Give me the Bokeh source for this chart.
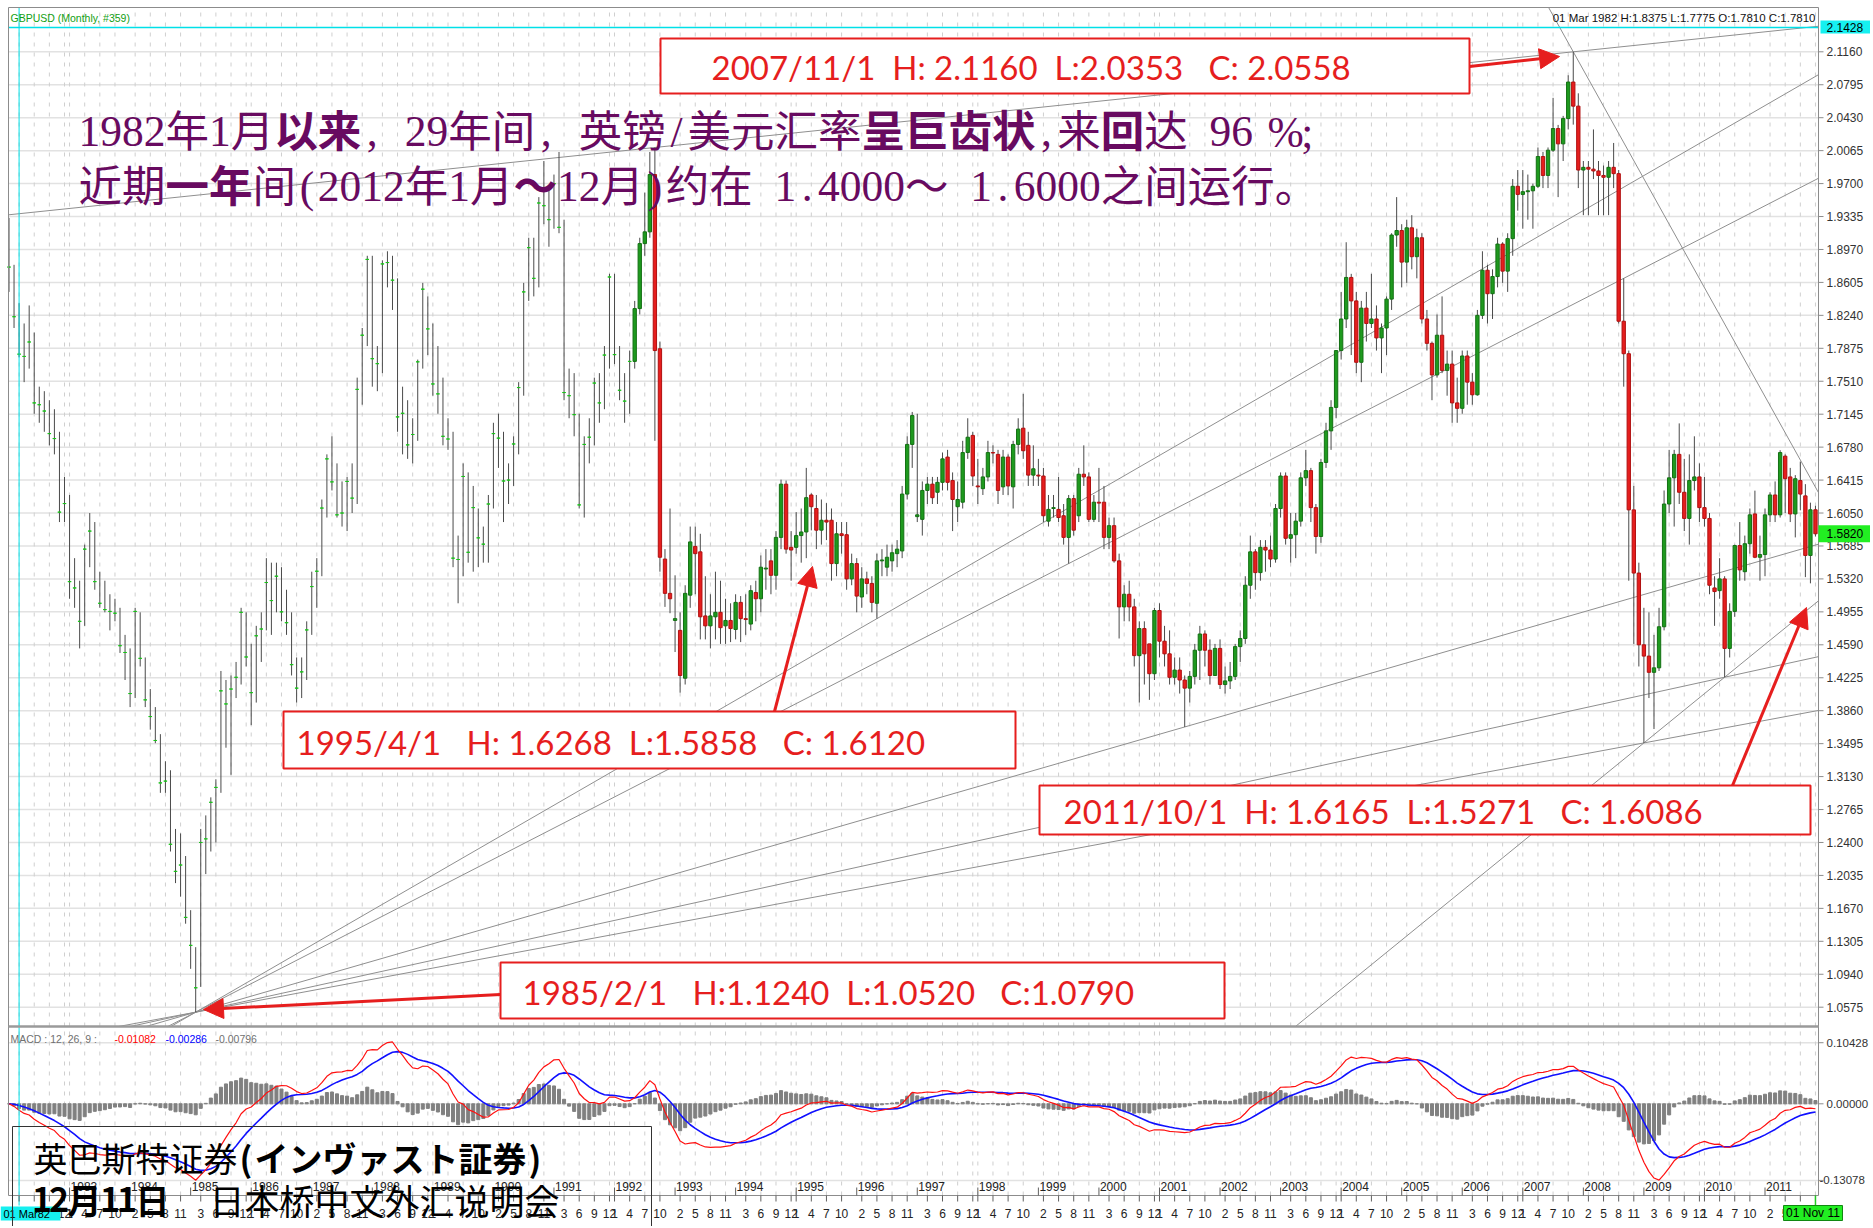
from bokeh.plotting import figure
from bokeh.models import Range1d, Arrow, NormalHead, ColumnDataSource
from bokeh.embed import file_html
from bokeh.resources import INLINE
from bokeh.core.properties import value

# ---------------- data: GBPUSD monthly, Jan 1982 .. Nov 2011 ----------------
close = [
    1.8775, 1.8225, 1.7810, 1.7785, 1.7945, 1.7270, 1.7250, 1.7180, 1.6930, 1.6875, 1.6060, 1.6155,  # 1982
    1.5290, 1.5220, 1.4850, 1.5650, 1.5850, 1.5290, 1.5050, 1.4980, 1.4960, 1.4940, 1.4580, 1.4505,  # 1983
    1.4050, 1.4960, 1.4440, 1.3980, 1.3795, 1.3530, 1.3060, 1.3080, 1.2380, 1.2080, 1.2150, 1.1570,  # 1984
    1.1260, 1.0790, 1.2400, 1.2440, 1.2845, 1.3010, 1.4080, 1.3935, 1.4100, 1.4230, 1.4950, 1.4455,  # 1985
    1.4060, 1.4690, 1.4765, 1.5280, 1.5080, 1.5350, 1.4955, 1.4835, 1.4370, 1.4110, 1.4290, 1.4755,  # 1986
    1.5235, 1.5405, 1.6105, 1.6650, 1.6395, 1.6030, 1.6050, 1.6400, 1.6215, 1.7420, 1.8020, 1.8860,  # 1987
    1.7760, 1.7705, 1.8810, 1.8825, 1.8630, 1.7115, 1.7155, 1.6805, 1.6920, 1.7725, 1.8530, 1.8090,  # 1988
    1.7480, 1.7370, 1.6900, 1.6870, 1.5550, 1.5535, 1.6455, 1.5615, 1.6110, 1.5775, 1.5705, 1.6150,  # 1989
    1.6930, 1.6880, 1.6405, 1.6415, 1.6815, 1.7440, 1.8500, 1.8990, 1.8650, 1.9485, 1.9455, 1.9300,  # 1990
    1.9700, 1.9215, 1.7385, 1.7350, 1.7140, 1.6140, 1.6810, 1.6890, 1.7490, 1.7270, 1.7800, 1.8665,  # 1991
    1.7805, 1.7410, 1.7290, 1.7730, 1.8315, 1.9035, 1.9165, 1.9800, 1.7850, 1.5560, 1.5160, 1.5100,  # 1992
    1.4880, 1.4250, 1.5160, 1.5730, 1.5600, 1.4900, 1.4800, 1.4910, 1.4950, 1.4780, 1.4860, 1.4770,  # 1993
    1.5060, 1.4880, 1.4870, 1.5190, 1.5100, 1.5450, 1.5440, 1.5360, 1.5780, 1.6370, 1.5650, 1.5640,  # 1994
    1.5800, 1.5840, 1.6220, 1.6120, 1.5860, 1.5970, 1.5950, 1.5490, 1.5820, 1.5800, 1.5320, 1.5490,  # 1995
    1.5130, 1.5320, 1.5270, 1.5060, 1.5520, 1.5530, 1.5560, 1.5610, 1.5650, 1.6260, 1.6810, 1.7130,  # 1996
    1.6030, 1.6300, 1.6370, 1.6220, 1.6390, 1.6650, 1.6390, 1.6200, 1.6200, 1.6720, 1.6890, 1.6460,  # 1997
    1.6340, 1.6450, 1.6720, 1.6715, 1.6300, 1.6670, 1.6350, 1.6810, 1.6980, 1.6740, 1.6470, 1.6540,  # 1998
    1.6460, 1.6020, 1.6090, 1.6110, 1.6000, 1.5780, 1.6210, 1.5860, 1.6480, 1.6450, 1.5980, 1.6170,  # 1999
    1.6160, 1.5780, 1.5910, 1.5520, 1.5010, 1.5150, 1.5010, 1.4470, 1.4770, 1.4490, 1.4270, 1.4970,  # 2000
    1.4630, 1.4490, 1.4230, 1.4310, 1.4200, 1.4110, 1.4240, 1.4530, 1.4710, 1.4530, 1.4250, 1.4550,  # 2001
    1.4150, 1.4190, 1.4240, 1.4570, 1.4660, 1.5250, 1.5620, 1.5390, 1.5670, 1.5640, 1.5540, 1.6100,  # 2002
    1.6460, 1.5770, 1.5810, 1.5960, 1.6440, 1.6520, 1.6110, 1.5790, 1.6610, 1.6960, 1.7220, 1.7850,  # 2003
    1.8200, 1.8660, 1.8400, 1.7720, 1.8320, 1.8150, 1.8200, 1.7990, 1.8100, 1.8420, 1.9130, 1.9180,  # 2004
    1.8830, 1.9210, 1.8890, 1.9100, 1.8200, 1.7930, 1.7580, 1.8020, 1.7630, 1.7700, 1.7270, 1.7210,  # 2005
    1.7790, 1.7500, 1.7360, 1.8240, 1.8740, 1.8480, 1.8670, 1.9030, 1.8730, 1.9090, 1.9670, 1.9580,  # 2006
    1.9610, 1.9620, 1.9670, 2.0000, 1.9790, 2.0070, 2.0310, 2.0140, 2.0420, 2.0825, 2.0558, 1.9850,  # 2007
    1.9880, 1.9860, 1.9840, 1.9790, 1.9770, 1.9880, 1.9810, 1.8175, 1.7815, 1.6085, 1.5385, 1.4590,  # 2008
    1.4465, 1.4285, 1.4335, 1.4790, 1.6150, 1.6440, 1.6700, 1.6280, 1.5990, 1.6410, 1.6450, 1.6110,  # 2009
    1.5990, 1.5250, 1.5180, 1.5320, 1.4550, 1.4960, 1.5690, 1.5420, 1.5710, 1.6030, 1.5560, 1.5590,  # 2010
    1.6030, 1.6250, 1.6030, 1.6720, 1.6430, 1.6040, 1.6430, 1.6260, 1.5580, 1.6086, 1.5820,          # 2011
]
high = [
    1.9320, 1.8800, 1.8375, 1.8150, 1.8350, 1.8050, 1.7450, 1.7400, 1.7300, 1.7200, 1.6950, 1.6450,
    1.6250, 1.5550, 1.5300, 1.5700, 1.6050, 1.5950, 1.5400, 1.5300, 1.5150, 1.5100, 1.5000, 1.4700,
    1.4550, 1.5000, 1.4950, 1.4450, 1.4100, 1.3900, 1.3600, 1.3300, 1.3200, 1.2550, 1.2500, 1.2250,
    1.1650, 1.1240, 1.2550, 1.2700, 1.2900, 1.3100, 1.4300, 1.4200, 1.4250, 1.4400, 1.5000, 1.4950,
    1.4600, 1.4800, 1.4950, 1.5550, 1.5500, 1.5500, 1.5450, 1.5200, 1.4950, 1.4450, 1.4450, 1.4850,
    1.5400, 1.5550, 1.6200, 1.6700, 1.6900, 1.6600, 1.6400, 1.6450, 1.6600, 1.7550, 1.8100, 1.8900,
    1.8900, 1.7900, 1.8850, 1.8950, 1.8900, 1.8650, 1.7450, 1.7300, 1.7100, 1.7750, 1.8600, 1.8450,
    1.8150, 1.7900, 1.7550, 1.7100, 1.6950, 1.5800, 1.6600, 1.6500, 1.6350, 1.6100, 1.5900, 1.6250,
    1.7050, 1.7150, 1.6950, 1.6600, 1.6900, 1.7500, 1.8600, 1.9100, 1.9100, 1.9550, 1.9950, 1.9650,
    1.9800, 2.0050, 1.9300, 1.7650, 1.7600, 1.7150, 1.6900, 1.7100, 1.7550, 1.7600, 1.7900, 1.8700,
    1.8700, 1.7900, 1.7600, 1.7850, 1.8400, 1.9100, 1.9600, 2.0050, 2.0100, 1.7950, 1.5650, 1.6100,
    1.5360, 1.4950, 1.5250, 1.5900, 1.5900, 1.5820, 1.5350, 1.5150, 1.5400, 1.5300, 1.5100, 1.5050,
    1.5150, 1.5130, 1.5150, 1.5250, 1.5300, 1.5580, 1.5650, 1.5650, 1.5850, 1.6420, 1.6410, 1.5850,
    1.6060, 1.6100, 1.6550, 1.6268, 1.6250, 1.6200, 1.6160, 1.6100, 1.5950, 1.5950, 1.5950, 1.5600,
    1.5550, 1.5450, 1.5400, 1.5350, 1.5600, 1.5650, 1.5700, 1.5700, 1.5750, 1.6350, 1.6900, 1.7170,
    1.7150, 1.6400, 1.6450, 1.6450, 1.6450, 1.6720, 1.6750, 1.6500, 1.6400, 1.6850, 1.7100, 1.6950,
    1.6650, 1.6550, 1.6850, 1.6800, 1.6750, 1.6750, 1.6700, 1.6850, 1.7100, 1.7370, 1.6950, 1.6800,
    1.6650, 1.6550, 1.6250, 1.6250, 1.6450, 1.6150, 1.6250, 1.6250, 1.6550, 1.6800, 1.6500, 1.6250,
    1.6550, 1.6350, 1.6000, 1.6000, 1.5600, 1.5250, 1.5300, 1.5100, 1.4850, 1.4850, 1.4600, 1.5000,
    1.5050, 1.4800, 1.4750, 1.4450, 1.4450, 1.4250, 1.4300, 1.4600, 1.4800, 1.4750, 1.4650, 1.4600,
    1.4650, 1.4350, 1.4400, 1.4600, 1.4750, 1.5350, 1.5800, 1.5650, 1.5750, 1.5750, 1.5800, 1.6150,
    1.6500, 1.6500, 1.6050, 1.6050, 1.6500, 1.6750, 1.6550, 1.6150, 1.6650, 1.7050, 1.7300, 1.7850,
    1.8500, 1.9050, 1.8700, 1.8500, 1.8400, 1.8500, 1.8700, 1.8350, 1.8150, 1.8450, 1.9150, 1.9550,
    1.9250, 1.9300, 1.9350, 1.9200, 1.9150, 1.8300, 1.7950, 1.8250, 1.8450, 1.7850, 1.7850, 1.7550,
    1.7850, 1.7850, 1.7600, 1.8300, 1.8950, 1.8800, 1.8750, 1.9100, 1.9050, 1.9150, 1.9750, 1.9850,
    1.9850, 1.9800, 1.9700, 2.0100, 2.0050, 2.0100, 2.0650, 2.0350, 2.0450, 2.0900, 2.1160, 2.0700,
    1.9950, 1.9950, 2.0300, 1.9950, 1.9900, 1.9950, 2.0150, 1.9850, 1.8650, 1.7850, 1.6350, 1.5500,
    1.5000, 1.4950, 1.4700, 1.5000, 1.6300, 1.6750, 1.6750, 1.7043, 1.6650, 1.6700, 1.6900, 1.6600,
    1.6450, 1.6050, 1.5350, 1.5550, 1.5350, 1.5050, 1.5700, 1.5950, 1.5800, 1.6100, 1.6298, 1.5800,
    1.6100, 1.6280, 1.6400, 1.6746, 1.6700, 1.6550, 1.6470, 1.6620, 1.6370, 1.6165, 1.6130,
]
low = [
    1.8500, 1.8100, 1.7775, 1.7500, 1.7650, 1.7150, 1.7050, 1.6950, 1.6800, 1.6700, 1.5950, 1.5950,
    1.5100, 1.5000, 1.4550, 1.4800, 1.5450, 1.5200, 1.5000, 1.4950, 1.4750, 1.4850, 1.4500, 1.4200,
    1.3900, 1.4000, 1.4350, 1.3900, 1.3650, 1.3500, 1.2950, 1.2950, 1.2300, 1.1950, 1.1800, 1.1500,
    1.1000, 1.0520, 1.0800, 1.2050, 1.2300, 1.2400, 1.2950, 1.3450, 1.3150, 1.4000, 1.4150, 1.4350,
    1.3700, 1.3950, 1.4400, 1.4750, 1.4700, 1.4950, 1.4850, 1.4700, 1.4250, 1.3950, 1.4000, 1.4200,
    1.4700, 1.5000, 1.5350, 1.6000, 1.6300, 1.6000, 1.5900, 1.5850, 1.6050, 1.6150, 1.7250, 1.7900,
    1.7450, 1.7400, 1.7600, 1.8550, 1.8300, 1.6950, 1.6700, 1.6650, 1.6600, 1.6850, 1.7650, 1.7800,
    1.7350, 1.7150, 1.6800, 1.6750, 1.5450, 1.5050, 1.5350, 1.5500, 1.5400, 1.5450, 1.5500, 1.5500,
    1.6100, 1.6550, 1.5950, 1.6150, 1.6350, 1.6700, 1.7350, 1.8400, 1.8450, 1.8550, 1.9250, 1.9000,
    1.9200, 1.9150, 1.7300, 1.7100, 1.6900, 1.6100, 1.6000, 1.6600, 1.6800, 1.7050, 1.7200, 1.7650,
    1.7700, 1.7300, 1.7050, 1.7150, 1.7650, 1.8250, 1.8900, 1.9100, 1.6850, 1.5400, 1.5010, 1.4940,
    1.4510, 1.4060, 1.4150, 1.5000, 1.5150, 1.4650, 1.4650, 1.4550, 1.4650, 1.4600, 1.4600, 1.4620,
    1.4650, 1.4620, 1.4700, 1.4750, 1.4850, 1.4950, 1.5200, 1.5150, 1.5200, 1.5650, 1.5600, 1.5300,
    1.5600, 1.5500, 1.5550, 1.5858, 1.5650, 1.5700, 1.5750, 1.5300, 1.5350, 1.5600, 1.5200, 1.5250,
    1.4950, 1.5000, 1.5150, 1.4950, 1.4880, 1.5350, 1.5350, 1.5400, 1.5450, 1.5550, 1.6200, 1.6550,
    1.5950, 1.5800, 1.6150, 1.6150, 1.6150, 1.6300, 1.6300, 1.5850, 1.5950, 1.6100, 1.6650, 1.6350,
    1.6150, 1.6250, 1.6400, 1.6600, 1.6150, 1.6250, 1.6250, 1.6100, 1.6700, 1.6650, 1.6350, 1.6350,
    1.6350, 1.5950, 1.5900, 1.6000, 1.5950, 1.5700, 1.5490, 1.5800, 1.5950, 1.6350, 1.5950, 1.5950,
    1.5950, 1.5650, 1.5650, 1.5500, 1.4660, 1.4850, 1.4850, 1.4350, 1.3950, 1.4150, 1.3980, 1.4200,
    1.4450, 1.4350, 1.4150, 1.4150, 1.4050, 1.3680, 1.3950, 1.4150, 1.4200, 1.4350, 1.4150, 1.4250,
    1.4100, 1.4050, 1.4100, 1.4200, 1.4400, 1.4600, 1.5100, 1.5200, 1.5300, 1.5400, 1.5450, 1.5500,
    1.6000, 1.5700, 1.5500, 1.5550, 1.5900, 1.6350, 1.5950, 1.5600, 1.5720, 1.6550, 1.6750, 1.7100,
    1.7750, 1.8100, 1.7800, 1.7600, 1.7500, 1.7950, 1.8100, 1.7850, 1.7600, 1.7800, 1.8300, 1.9000,
    1.8550, 1.8600, 1.8750, 1.8650, 1.8150, 1.7850, 1.7300, 1.7550, 1.7600, 1.7350, 1.7050, 1.7050,
    1.7150, 1.7250, 1.7250, 1.7350, 1.8200, 1.8150, 1.8200, 1.8550, 1.8600, 1.8500, 1.8900, 1.9400,
    1.9200, 1.9300, 1.9200, 1.9650, 1.9650, 1.9650, 2.0050, 1.9550, 1.9950, 2.0300, 2.0353, 1.9650,
    1.9350, 1.9350, 1.9750, 1.9350, 1.9350, 1.9350, 1.9650, 1.8150, 1.7450, 1.5300, 1.4600, 1.4350,
    1.3503, 1.4000, 1.3657, 1.4300, 1.4750, 1.6050, 1.5900, 1.6150, 1.5850, 1.5700, 1.6300, 1.5950,
    1.5900, 1.5150, 1.4800, 1.5100, 1.4231, 1.4450, 1.4900, 1.5300, 1.5300, 1.5600, 1.5550, 1.5300,
    1.5350, 1.5950, 1.5950, 1.6000, 1.6050, 1.5950, 1.5780, 1.6080, 1.5340, 1.5271, 1.5790,
]
# opens of the candle period (May 1992 onward); earlier source bars carry O = C
open_candles = [
    1.7730, 1.8315, 1.9035, 1.9165, 1.9800, 1.7870, 1.5540, 1.5160,                                  # 1992 May-Dec
    1.4860, 1.4750, 1.4220, 1.5140, 1.5680, 1.5620, 1.4910, 1.4800, 1.4900, 1.4950, 1.4800, 1.4860,  # 1993
    1.4760, 1.5060, 1.4880, 1.4820, 1.5170, 1.5100, 1.5430, 1.5520, 1.5360, 1.5780, 1.6370, 1.5670,  # 1994
    1.5670, 1.5800, 1.5840, 1.6250, 1.6100, 1.5860, 1.5970, 1.5970, 1.5490, 1.5820, 1.5810, 1.5320,  # 1995
    1.5490, 1.5120, 1.5320, 1.5270, 1.5050, 1.5520, 1.5450, 1.5520, 1.5600, 1.5630, 1.6260, 1.6810,  # 1996
    1.6010, 1.5980, 1.6300, 1.6370, 1.6280, 1.6390, 1.6670, 1.6410, 1.6120, 1.6170, 1.6720, 1.6910,  # 1997
    1.6350, 1.6320, 1.6450, 1.6720, 1.6700, 1.6340, 1.6670, 1.6340, 1.6810, 1.6990, 1.6800, 1.6470,  # 1998
    1.6470, 1.6460, 1.5960, 1.6100, 1.6090, 1.6020, 1.5780, 1.6210, 1.6020, 1.6480, 1.6450, 1.5980,  # 1999
    1.6170, 1.6170, 1.5780, 1.5910, 1.5520, 1.5010, 1.5150, 1.5010, 1.4470, 1.4770, 1.4600, 1.4270,  # 2000
    1.4970, 1.4630, 1.4490, 1.4230, 1.4310, 1.4200, 1.4110, 1.4240, 1.4530, 1.4710, 1.4530, 1.4250,  # 2001
    1.4550, 1.4150, 1.4190, 1.4240, 1.4570, 1.4660, 1.5250, 1.5620, 1.5390, 1.5670, 1.5640, 1.5540,  # 2002
    1.6100, 1.6460, 1.5770, 1.5810, 1.5960, 1.6440, 1.6520, 1.6110, 1.5790, 1.6610, 1.6960, 1.7220,  # 2003
    1.7850, 1.8200, 1.8660, 1.8400, 1.7720, 1.8320, 1.8150, 1.8200, 1.7990, 1.8100, 1.8420, 1.9130,  # 2004
    1.9180, 1.8830, 1.9210, 1.8890, 1.9100, 1.8200, 1.7930, 1.7580, 1.8020, 1.7630, 1.7700, 1.7270,  # 2005
    1.7210, 1.7790, 1.7500, 1.7360, 1.8240, 1.8740, 1.8480, 1.8670, 1.9030, 1.8730, 1.9090, 1.9670,  # 2006
    1.9580, 1.9610, 1.9620, 1.9670, 2.0000, 1.9790, 2.0070, 2.0310, 2.0140, 2.0420, 2.0825, 2.0558,  # 2007
    1.9850, 1.9880, 1.9860, 1.9840, 1.9790, 1.9770, 1.9880, 1.9810, 1.8175, 1.7815, 1.6085, 1.5385,  # 2008
    1.4590, 1.4465, 1.4285, 1.4335, 1.4790, 1.6150, 1.6440, 1.6700, 1.6280, 1.5990, 1.6410, 1.6450,  # 2009
    1.6110, 1.5990, 1.5220, 1.5190, 1.5320, 1.4550, 1.4960, 1.5690, 1.5400, 1.5710, 1.6040, 1.5560,  # 2010
    1.5590, 1.6030, 1.6250, 1.6030, 1.6680, 1.6450, 1.6040, 1.6410, 1.6240, 1.5580, 1.6086,          # 2011
]
CANDLE_START = 124   # May 1992

price_ticks = [2.1160, 2.0795, 2.0430, 2.0065, 1.9700, 1.9335, 1.8970, 1.8605, 1.8240, 1.7875,
               1.7510, 1.7145, 1.6780, 1.6415, 1.6050, 1.5685, 1.5320, 1.4955, 1.4590, 1.4225,
               1.3860, 1.3495, 1.3130, 1.2765, 1.2400, 1.2035, 1.1670, 1.1305, 1.0940, 1.0575]
macd_ticks = [0.10428, 0.0, -0.13078]
macd_tick_labels = ["0.10428", "0.00000", "-0.13078"]
cross_price = 2.1428     # crosshair level shown on the price axis
cross_bar = 2            # crosshair bar: 01 Mar 1982

N = len(close)
assert N == 359 and len(high) == N and len(low) == N
assert len(open_candles) == N - CANDLE_START
opens = close[:CANDLE_START] + open_candles

# trend lines: anchor pairs (bar index, price)
trend_lines = [
    (128, high[128], 310, high[310]),   # 1992 high -> 2007 high
    (37, low[37], 172, low[172]),       # fan from the 1985 low
    (37, low[37], 210, low[210]),
    (37, low[37], 233, low[233]),
    (37, low[37], 340, low[340]),
    (37, low[37], 324, low[324]),
    (324, low[324], 340, low[340]),     # 2009 low -> 2010 low
    (310, high[310], 358, 1.6336),      # falling line from the 2007 high
]

# ---------------- page geometry (pixels of the 1873x1228 picture) ----------------
W, H = 1870, 1226
BAR = 5.046          # px per month
X_OFF = 8.5          # px of bar 0
PPX = 902.6          # px per 1.0 of price
P_REF_PX, P_REF = 51.3, 2.1160
MPX = 585.8          # px per 1.0 of MACD
M_ZERO_PX = 1103.3


def X(px):
    return (px - X_OFF) / BAR


def P(py):
    return P_REF - (py - P_REF_PX) / PPX


def M(py):
    return (M_ZERO_PX - py) / MPX


XL, XR = X(8), X(1818)
PT, PB = P(7), P(1026)
MT, MB = M(1026), M(1195)

RED = "#e61e1e"
GREEN = "#1e9a1e"
TICK_GREEN = "#19c419"
WICK = "#4a4a4a"
GRID_H = "#e2e2e2"
GRID_V = "#cfcfcf"
FRAME = "#8c8c8c"
AXIS_TXT = "#333333"
SANS = value("Liberation Sans")

p = figure(width=W, height=H, x_range=Range1d(X(0), X(W)), y_range=Range1d(P(H), P(0)),
           output_backend="svg", toolbar_location=None, x_axis_location=None, y_axis_location=None,
           min_border=0)
p.extra_y_ranges = {"m": Range1d(M(H), M(0))}
p.outline_line_color = None
p.background_fill_color = "white"
p.border_fill_color = "white"
p.grid.visible = False

# month label positions (every 3 months, phase set by the year)
month_pos, month_lab = [], []
for i in range(N):
    yr, m = 1982 + i // 12, i % 12 + 1
    if m % 3 == (yr % 3 + 1) % 3:
        month_pos.append(i)
        month_lab.append(str(m))
year_pos = [(y - 1982) * 12 for y in range(1983, 2012)]
year_lab = [str(y) for y in range(1983, 2012)]

# ---------------- grids ----------------
nP = len(price_ticks)
p.segment(x0=[XL] * nP, y0=price_ticks, x1=[XR] * nP, y1=price_ticks, line_color=GRID_H, line_width=1.5)
nm = len(month_pos)
p.segment(x0=month_pos, y0=[PB] * nm, x1=month_pos, y1=[PT] * nm, line_color=GRID_V, line_dash="4 6")
p.segment(x0=[XL] * 3, y0=macd_ticks, x1=[XR] * 3, y1=macd_ticks, line_color=GRID_H, line_width=1.5,
          y_range_name="m")
p.segment(x0=month_pos, y0=[MB] * nm, x1=month_pos, y1=[MT] * nm, line_color=GRID_V, line_dash="4 6",
          y_range_name="m")


# ---------------- trend lines (clipped to the price panel) ----------------
def clip_line(i1, v1, i2, v2):
    s = (v2 - v1) / (i2 - i1)
    a, b = XL, XR
    if s != 0:
        xs = sorted([i1 + (PB - v1) / s, i1 + (PT - v1) / s])
        a, b = max(a, xs[0]), min(b, xs[1])
    return a, v1 + s * (a - i1), b, v1 + s * (b - i1)


segs = [clip_line(*t) for t in trend_lines]
p.segment(x0=[s[0] for s in segs], y0=[s[1] for s in segs], x1=[s[2] for s in segs],
          y1=[s[3] for s in segs], line_color="#8f8f8f", line_width=1)

# ---------------- candles ----------------
idx = list(range(N))
fill, edge = [], []
for i, (o, c) in enumerate(zip(opens, close)):
    if i < CANDLE_START or abs(o - c) < 1e-9:
        fill.append(TICK_GREEN); edge.append(TICK_GREEN)
    elif c > o:
        fill.append(GREEN); edge.append("#137013")
    else:
        fill.append(RED); edge.append("#b01010")
src = ColumnDataSource(dict(x=idx, hi=high, lo=low,
                            top=[max(o, c) for o, c in zip(opens, close)],
                            bot=[min(o, c) for o, c in zip(opens, close)], fill=fill, edge=edge))
p.segment(x0="x", y0="lo", x1="x", y1="hi", source=src, line_color=WICK, line_width=1)
p.vbar(x="x", top="top", bottom="bot", width=0.66, source=src, fill_color="fill", line_color="edge")


# ---------------- MACD (12, 26, 9) ----------------
def ema(vals, n):
    k = 2.0 / (n + 1)
    out, e = [], vals[0]
    for v in vals:
        e = e + k * (v - e)
        out.append(e)
    return out


e12, e26 = ema(close, 12), ema(close, 26)
macd = [a - b for a, b in zip(e12, e26)]
signal = ema(macd, 9)
hist = [m - s for m, s in zip(macd, signal)]
p.vbar(x=idx, top=hist, bottom=0, width=0.6, fill_color="#808080", line_color="#808080", y_range_name="m")
p.line(idx, signal, line_color="#1010ff", line_width=1.6, y_range_name="m")
p.line(idx, macd, line_color="#ff1010", line_width=1.2, y_range_name="m")

# ---------------- crosshair ----------------
p.segment(x0=[cross_bar], y0=[P(7)], x1=[cross_bar], y1=[P(1205)], line_color="#00e0e8", line_width=1)
p.segment(x0=[XL], y0=[cross_price], x1=[XR], y1=[cross_price], line_color="#00e0e8", line_width=1.5)

# ---------------- panel frames ----------------
p.quad(left=[XL], right=[XR], top=[PT], bottom=[PB], fill_color=None, line_color=FRAME, line_width=1)
p.quad(left=[XL], right=[XR], top=[MT], bottom=[MB], fill_color=None, line_color=FRAME, line_width=1,
       y_range_name="m")
p.segment(x0=[XL], y0=[PB], x1=[XR], y1=[PB], line_color="#9a9a9a", line_width=2.5)

# ---------------- right axes ----------------
p.segment(x0=[XR] * nP, y0=price_ticks, x1=[X(1823)] * nP, y1=price_ticks, line_color=FRAME)
p.text(x=[X(1826)] * nP, y=price_ticks, text=["%.4f" % t for t in price_ticks], text_font=SANS,
       text_font_size="12px", text_color=AXIS_TXT, text_baseline="middle", text_align="left")
p.segment(x0=[XR] * 3, y0=macd_ticks, x1=[X(1823)] * 3, y1=macd_ticks, line_color=FRAME, y_range_name="m")
p.text(x=[X(1826), X(1826), X(1819)], y=macd_ticks, text=macd_tick_labels, text_font=SANS,
       text_font_size="11.5px", text_color=AXIS_TXT, text_baseline="middle", text_align="left",
       y_range_name="m")

# highlighted axis values
p.quad(left=[X(1820)], right=[X(1870)], top=[P(20)], bottom=[P(33)], fill_color="#16f0f0", line_color=None)
p.text(x=[X(1826)], y=[cross_price], text=["%.4f" % cross_price], text_font=SANS, text_font_size="12px",
       text_color="#000000", text_baseline="middle")
last_py = P_REF_PX + (P_REF - close[-1]) * PPX
p.quad(left=[X(1818)], right=[X(1870)], top=[P(last_py - 8.5)], bottom=[P(last_py + 8.5)],
       fill_color="#22ee22", line_color=None)
p.text(x=[X(1826)], y=[close[-1]], text=["%.4f" % close[-1]], text_font=SANS, text_font_size="12px",
       text_color="#000000", text_baseline="middle")

# ---------------- time axis ----------------
p.segment(x0=month_pos, y0=[P(1195)] * nm, x1=month_pos, y1=[P(1201)] * nm, line_color="#606060")
p.text(x=month_pos, y=[P(1213)] * nm, text=month_lab, text_font=SANS, text_font_size="12px",
       text_color="#222222", text_baseline="middle", text_align="center")
ny = len(year_pos)
p.segment(x0=year_pos, y0=[P(1195)] * ny, x1=year_pos, y1=[P(1187)] * ny, line_color="#606060")
p.text(x=year_pos, y=[P(1186)] * ny, text=year_lab, x_offset=1, text_font=SANS, text_font_size="12px",
       text_color="#222222", text_baseline="middle", text_align="left")
p.quad(left=[X(0)], right=[X(60)], top=[P(1206)], bottom=[P(1220)], fill_color="#16f0f0", line_color=None)
p.text(x=[X(3)], y=[P(1213)], text=["01 Mar82"], text_font=SANS, text_font_size="11px",
       text_color="#000000", text_baseline="middle")
p.segment(x0=[N - 1], y0=[P(1195)], x1=[N - 1], y1=[P(1206)], line_color="#22cc22", line_width=1.5)
p.quad(left=[X(1783)], right=[X(1842)], top=[P(1205)], bottom=[P(1220)], fill_color="#22ee22",
       line_color="#118811")
p.text(x=[X(1812.5)], y=[P(1212.5)], text=["01 Nov 11"], text_font=SANS, text_font_size="12px",
       text_color="#000000", text_baseline="middle", text_align="center")

# ---------------- headers ----------------
p.text(x=[X(10)], y=[P(17)], text=["GBPUSD (Monthly, #359)"], text_font=SANS, text_font_size="10.5px",
       text_color="#12a012", text_baseline="middle")
p.text(x=[X(1815)], y=[P(17)], text=["01 Mar 1982 H:1.8375 L:1.7775 O:1.7810 C:1.7810"], text_font=SANS,
       text_font_size="11.5px", text_color="#111111", text_baseline="middle", text_align="right")
for txt, xpx, col in (("MACD : 12, 26, 9 :", 10, "#707070"), ("-0.01082", 114, "#ff0000"),
                      ("-0.00286", 165, "#0000ff"), ("-0.00796", 215, "#707070")):
    p.text(x=[X(xpx)], y=[P(1038)], text=[txt], text_font=SANS, text_font_size="10.5px", text_color=col,
           text_baseline="middle")


# ---------------- cell layout for CJK texts (CJK = 1 em, Latin = 0.5 em) ----------------
def cells(segments, x0, size):
    out, x = [], x0
    for txt, bold in segments:
        for ch in txt:
            w = size * (1.0 if ord(ch) > 0x2E7F else 0.5)
            if ch != " ":
                out.append((x + w / 2, ch, bold))
            x += w
    return out


def draw_cells(cs, ypx, size, font, color):
    for flag, style in ((0, "normal"), (1, "bold")):
        sel = [c for c in cs if c[2] == flag]
        if sel:
            p.text(x=[X(c[0]) for c in sel], y=[P(ypx)] * len(sel), text=[c[1] for c in sel],
                   text_font=font, text_font_size="%gpx" % size, text_font_style=style, text_color=color,
                   text_align="center", text_baseline="middle")


TITLE_SIZE = 43.5
TFONT = value('"Liberation Serif", "Noto Sans CJK SC", serif')
title1 = [("1982", 0), ("年", 0), ("1", 0), ("月", 0), ("以来", 1), (", ", 0), ("29", 0), ("年间", 0),
          (", ", 0), ("英镑", 0), ("/", 0), ("美元汇率", 0), ("呈巨齿状", 1), (",", 0), ("来", 0),
          ("回", 1), ("达 ", 0), ("96 %;", 0)]
title2 = [("近期", 0), ("一年", 1), ("间", 0), ("(2012", 0), ("年", 0), ("1", 0), ("月", 0), ("〜", 1),
          ("12", 0), ("月", 0), (")", 0), ("约在", 0), (" 1.4000", 0), ("〜", 0), (" 1.6000", 0),
          ("之间运行。", 0)]
draw_cells(cells(title1, 78, TITLE_SIZE), 131, TITLE_SIZE, TFONT, "#680a60")
draw_cells(cells(title2, 78, TITLE_SIZE), 186, TITLE_SIZE, TFONT, "#680a60")

# ---------------- red call-outs ----------------
NB = "\u00a0"
notes = [
    ((660, 38, 1469, 93), "2007/11/1  H: 2.1160  L:2.0353   C: 2.0558", (711, 66), (1469, 66), (1559, 56)),
    ((283, 711, 1015, 768), "1995/4/1   H: 1.6268  L:1.5858   C: 1.6120", (296, 741), (774, 711), (812, 566)),
    ((1039, 785, 1810, 834), "2011/10/1  H: 1.6165  L:1.5271   C: 1.6086", (1063, 810), (1732, 785), (1806, 607)),
    ((500, 962, 1224, 1018), "1985/2/1   H:1.1240  L:1.0520   C:1.0790", (522, 991), (500, 994), (203, 1009)),
]
for (l, t, r, b), txt, (tx, ty), (ax, ay), (bx, by) in notes:
    p.quad(left=[X(l)], right=[X(r)], top=[P(t)], bottom=[P(b)], fill_color="white", line_color=RED,
           line_width=2)
    p.text(x=[X(tx)], y=[P(ty)], text=[txt.replace(" ", NB)], text_font=value("Lato"), text_font_size="33px",
           text_color=RED, text_baseline="middle")
    p.add_layout(Arrow(x_start=X(ax), y_start=P(ay), x_end=X(bx), y_end=P(by), line_color=RED, line_width=3,
                       end=NormalHead(size=20, fill_color=RED, line_color=RED)))

# ---------------- bottom-left caption ----------------
p.quad(left=[X(12)], right=[X(651)], top=[P(1126)], bottom=[P(1240)], fill_color=None, line_color="#333333")
CFONT = value("Noto Sans CJK JP")
draw_cells(cells([("英巴斯特证券", 0), ("(インヴァスト証券)", 1)], 33, 34), 1157, 34, CFONT, "#000000")
draw_cells(cells([("12月11日", 1)], 33, 34), 1199, 34, CFONT, "#000000")
draw_cells(cells([("日本桥中文外汇说明会", 0)], 209, 35), 1199, 35, CFONT, "#000000")

open("out.html", "w").write(file_html(p, INLINE, title="GBPUSD"))
